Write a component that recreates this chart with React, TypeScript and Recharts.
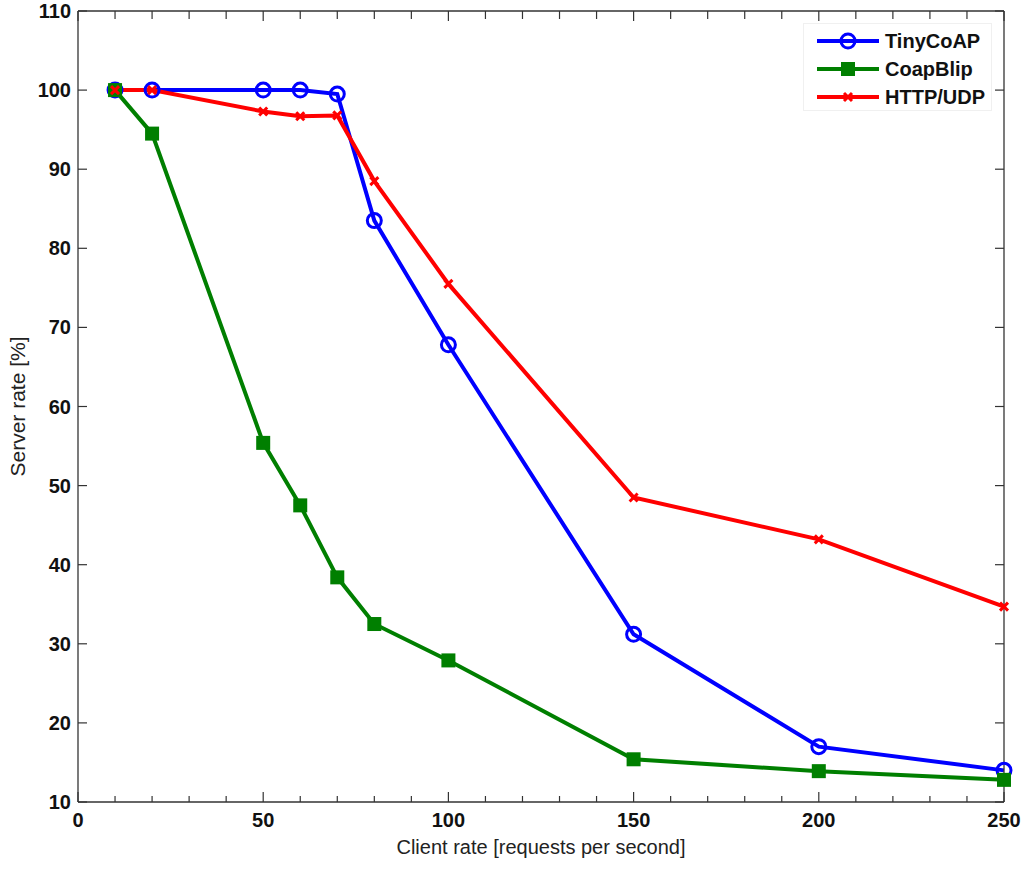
import React from "react";
import { Legend, Line, LineChart, XAxis, YAxis } from "recharts";

// client rate [requests per second]
const clientRates = [10, 20, 50, 60, 70, 80, 100, 150, 200, 250];
// server rate [%]
const tinyCoap = [100, 100, 100, 100, 99.5, 83.5, 67.8, 31.2, 17, 14];
const coapBlip = [100, 94.5, 55.4, 47.5, 38.4, 32.5, 27.9, 15.4, 13.9, 12.8];
const httpUdp = [100, 100, 97.3, 96.7, 96.8, 88.5, 75.5, 48.5, 43.2, 34.7];

const xTicks = [0, 10, 20, 30, 40, 50, 60, 70, 80, 90, 100, 110, 120, 130, 140, 150, 160, 170, 180, 190, 200, 210, 220, 230, 240, 250];
const yTicks = [10, 20, 30, 40, 50, 60, 70, 80, 90, 100, 110];

const BLUE = "#0000ff";
const GREEN = "#007f00";
const RED = "#ff0000";
const AXIS = "#333";
const FONT = "'Liberation Sans', Arial, sans-serif";
const GAP = 8;

const rows = clientRates.map((x, i) => ({
  x,
  tiny: tinyCoap[i],
  blip: coapBlip[i],
  http: httpUdp[i],
}));

const series = [
  { key: "tiny", name: "TinyCoAP", color: BLUE, marker: "circle" },
  { key: "blip", name: "CoapBlip", color: GREEN, marker: "square" },
  { key: "http", name: "HTTP/UDP", color: RED, marker: "cross" },
];

function Marker({ cx, cy, kind, color }: any) {
  if (cx == null || cy == null) return null;
  if (kind === "circle")
    return <circle cx={cx} cy={cy} r={7} fill="none" stroke={color} strokeWidth={3} />;
  if (kind === "square")
    return <rect x={cx - 7} y={cy - 7} width={14} height={14} fill={color} />;
  return (
    <path
      d={`M${cx - 4},${cy - 4}L${cx + 4},${cy + 4}M${cx - 4},${cy + 4}L${cx + 4},${cy - 4}`}
      stroke={color}
      strokeWidth={3}
    />
  );
}

function BottomTick({ x, y, payload }: any) {
  const axisY = y - GAP;
  const major = payload.value % 50 === 0;
  return (
    <g>
      <line x1={x} x2={x} y1={axisY} y2={axisY - (major ? 10 : 6)} stroke={AXIS} strokeWidth={1.2} />
      {major && (
        <text x={x} y={axisY + 25} textAnchor="middle" fontFamily={FONT} fontSize={20} fontWeight="bold" fill="#111">
          {payload.value}
        </text>
      )}
    </g>
  );
}

// top axis: tick label anchor sits on the axis line (tickSize and tickMargin are 0)
function TopTick({ x, y, payload }: any) {
  const major = payload.value % 50 === 0;
  return <line x1={x} x2={x} y1={y} y2={y + (major ? 10 : 8)} stroke={AXIS} strokeWidth={1.2} />;
}

function LeftTick({ x, y, payload }: any) {
  const axisX = x + GAP;
  return (
    <g>
      <line x1={axisX} x2={axisX + 9} y1={y} y2={y} stroke={AXIS} strokeWidth={1.2} />
      <text x={axisX - 7} y={y + 7} textAnchor="end" fontFamily={FONT} fontSize={20} fontWeight="bold" fill="#111">
        {payload.value}
      </text>
    </g>
  );
}

function RightTick({ x, y }: any) {
  return <line x1={x} x2={x - 9} y1={y} y2={y} stroke={AXIS} strokeWidth={1.2} />;
}

function LegendBox() {
  return (
    <div
      style={{
        width: 189,
        height: 88,
        border: "1px solid #f0f0f0",
        background: "#fff",
        boxSizing: "border-box",
        paddingTop: 3,
        fontFamily: FONT,
      }}
    >
      {series.map((s) => (
        <div key={s.key} style={{ display: "flex", alignItems: "center", height: 28 }}>
          <svg width={76} height={20} style={{ marginLeft: 11 }}>
            <line x1={2} x2={64} y1={10} y2={10} stroke={s.color} strokeWidth={4} />
            <Marker cx={33} cy={10} kind={s.marker} color={s.color} />
          </svg>
          <span style={{ fontSize: 20, fontWeight: "bold", color: "#111", marginLeft: -6 }}>{s.name}</span>
        </div>
      ))}
    </div>
  );
}

export default function App() {
  return (
    <div style={{ position: "absolute", left: 0, top: 0, background: "#fff" }}>
      <LineChart width={1024} height={869} data={rows} margin={{ top: 10, right: 19, bottom: 0, left: 0 }}>
        <XAxis
          dataKey="x"
          type="number"
          domain={[0, 250]}
          ticks={xTicks}
          interval={0}
          height={67}
          tickSize={0}
          tickMargin={GAP}
          tickLine={false}
          tick={<BottomTick />}
          axisLine={{ stroke: AXIS, strokeWidth: 1.3 }}
          label={{
            content: ({ viewBox }: any) => (
              <text
                x={viewBox.x + viewBox.width / 2}
                y={854}
                textAnchor="middle"
                fontFamily={FONT}
                fontSize={20}
                fill="#222"
              >
                Client rate [requests per second]
              </text>
            ),
          }}
        />
        <XAxis
          xAxisId="top"
          dataKey="x"
          orientation="top"
          type="number"
          domain={[0, 250]}
          ticks={xTicks}
          interval={0}
          height={1}
          tickSize={0}
          tickMargin={0}
          tickLine={false}
          tick={<TopTick />}
          axisLine={{ stroke: AXIS, strokeWidth: 1.3 }}
        />
        <YAxis
          type="number"
          domain={[10, 110]}
          ticks={yTicks}
          interval={0}
          width={78}
          tickSize={0}
          tickMargin={GAP}
          tickLine={false}
          tick={<LeftTick />}
          axisLine={{ stroke: AXIS, strokeWidth: 1.3 }}
          label={{
            content: ({ viewBox }: any) => {
              const cy = viewBox.y + viewBox.height / 2;
              return (
                <text
                  x={25}
                  y={cy}
                  transform={`rotate(-90 25 ${cy})`}
                  textAnchor="middle"
                  fontFamily={FONT}
                  fontSize={21}
                  fill="#222"
                >
                  Server rate [%]
                </text>
              );
            },
          }}
        />
        <YAxis
          yAxisId="right"
          orientation="right"
          type="number"
          domain={[10, 110]}
          ticks={yTicks}
          interval={0}
          width={1}
          tickSize={0}
          tickMargin={0}
          tickLine={false}
          tick={<RightTick />}
          axisLine={{ stroke: AXIS, strokeWidth: 1.3 }}
        />
        <Legend
          verticalAlign="middle"
          align="center"
          layout="horizontal"
          wrapperStyle={{ top: 23, left: 803, width: 189, height: 88 }}
          content={() => <LegendBox />}
        />
        {/* invisible copy tying the top and right frame axes to the data */}
        <Line
          xAxisId="top"
          yAxisId="right"
          dataKey="tiny"
          stroke="transparent"
          dot={false}
          activeDot={false}
          legendType="none"
          isAnimationActive={false}
        />
        {series.map((s) => (
          <Line
            key={s.key}
            dataKey={s.key}
            name={s.name}
            type="linear"
            stroke={s.color}
            strokeWidth={4}
            isAnimationActive={false}
            dot={(p: any) => <Marker key={`${s.key}-${p.index}`} cx={p.cx} cy={p.cy} kind={s.marker} color={s.color} />}
            activeDot={false}
          />
        ))}
      </LineChart>
    </div>
  );
}
